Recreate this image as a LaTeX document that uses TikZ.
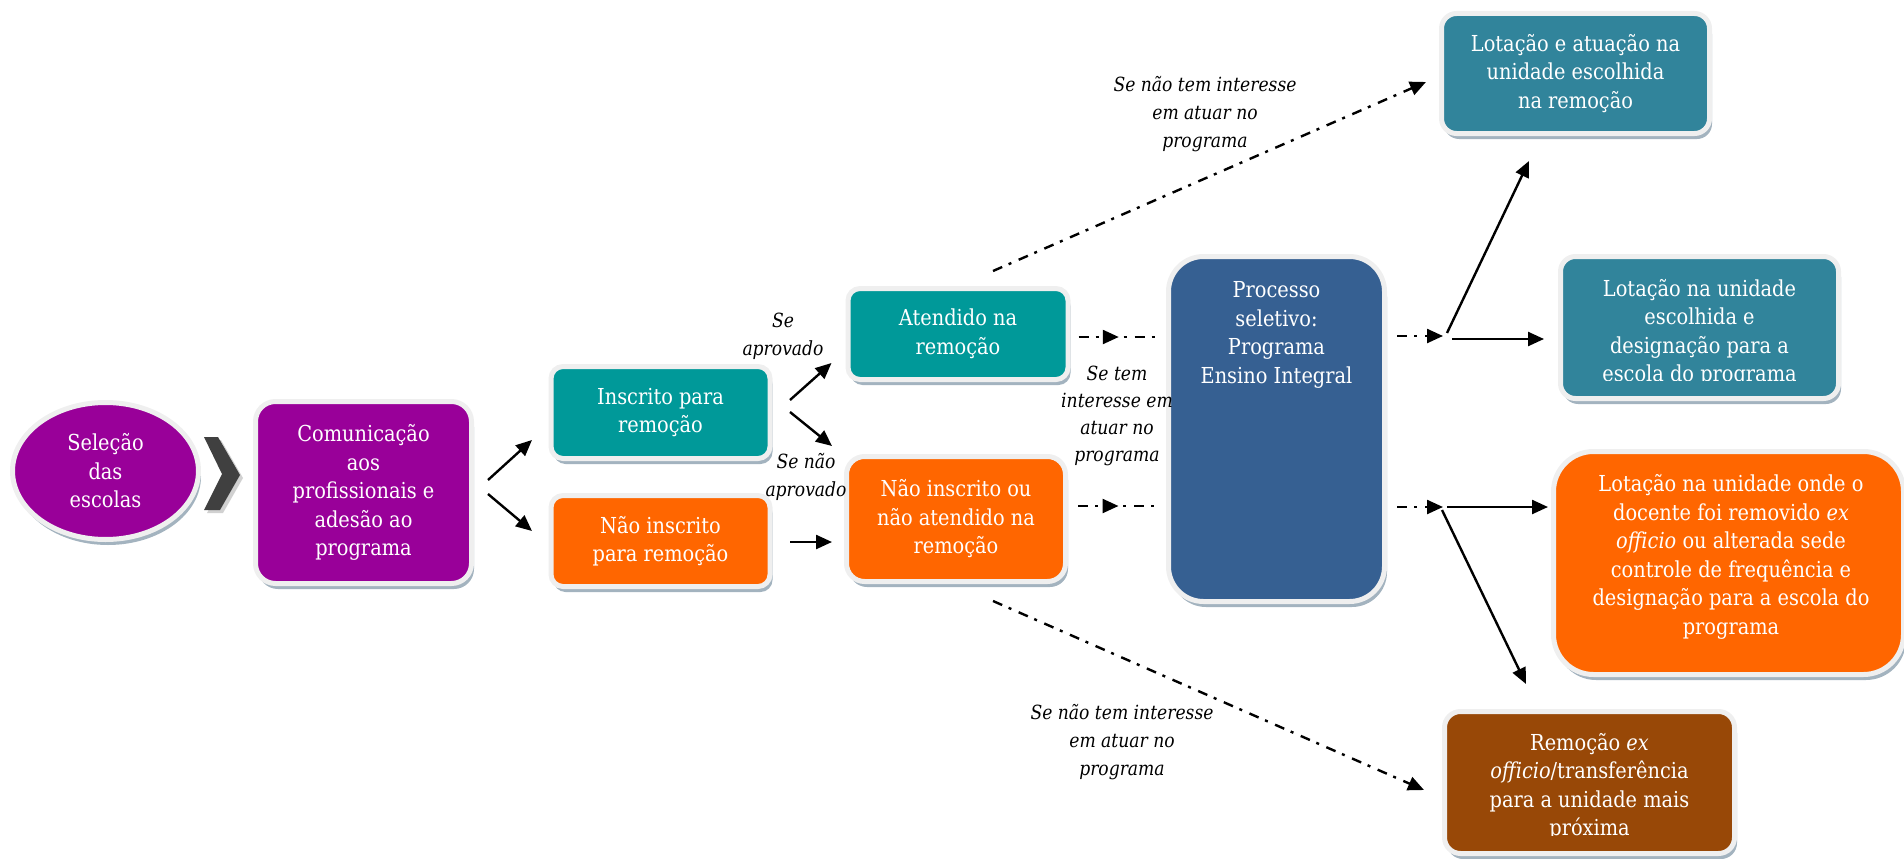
\documentclass[tikz,border=0pt]{standalone}
\usepackage{fontspec}
\setmainfont{DejaVu Serif}[FakeStretch=0.88]
\usetikzlibrary{shapes.geometric,shadows,arrows.meta,decorations.markings}
\definecolor{cpurple}{HTML}{990099}
\definecolor{cteal}{HTML}{009999}
\definecolor{corange}{HTML}{FF6600}
\definecolor{cblue}{HTML}{366092}
\definecolor{cteal2}{HTML}{31849B}
\definecolor{cbrown}{HTML}{984807}
\definecolor{cchev}{HTML}{404040}
\definecolor{crim}{HTML}{EFEFEF}
\definecolor{cshad}{HTML}{A3B3BF}
\newcommand\boxfont{\fontsize{22}{28.5}\selectfont}
\newcommand\lblfont{\fontsize{19.5}{28}\selectfont\itshape}
\tikzset{
  box/.style={rectangle, rounded corners=12pt, draw=crim, line width=5pt,
    text=white, align=center, inner sep=0pt, font=\boxfont,
    drop shadow={shadow xshift=2.5pt, shadow yshift=-5.5pt, fill=cshad, opacity=1}},
  txt/.style={text=white, align=center, inner sep=0pt, font=\boxfont},
  lbl/.style={font=\lblfont, align=center, text=black, inner sep=0pt},
  tip/.style={-{Triangle[length=16pt,width=14pt]}},
  arr/.style={line width=2.4pt, tip},
  dd/.style={line width=2.4pt, dash pattern=on 10pt off 7pt on 3pt off 8pt},
  ddarr/.style={dd, tip},
  midarr/.style={dd, postaction={decorate}, decoration={markings,
    mark=at position 0.5 with {\arrow{Triangle[length=16pt,width=14pt]}}}},
}
\begin{document}
\begin{tikzpicture}[x=1pt, y=-1pt]
\useasboundingbox (0,0) rectangle (1904,859);

% left part
\node[box, ellipse, fill=cpurple, minimum width=186, minimum height=137] (sel) at (105.5,471) {Seleção\\das\\escolas};
\fill[black!18] (207,440) -- (221,440) -- (243,478) -- (223,513) -- (207,513) -- (225,477) -- cycle;
\fill[cchev] (204,437) -- (218,437) -- (240,475) -- (220,510) -- (204,510) -- (222,474) -- cycle;
\node[box, fill=cpurple, rounded corners=20pt, minimum width=216, minimum height=182] (comm) at (363.5,492.5) {Comunicação\\aos\\profissionais e\\adesão ao\\programa};

\node[box, fill=cteal, minimum width=219, minimum height=92] (insc) at (660.5,412.5) {Inscrito para\\remoção};
\node[box, fill=corange, minimum width=219, minimum height=91] (ninsc) at (660.5,541) {Não inscrito\\para remoção};
\node[box, fill=cteal, minimum width=220, minimum height=91] (atend) at (958,334) {Atendido na\\remoção};
\node[box, fill=corange, rounded corners=18pt, minimum width=219, minimum height=125] (ninscou) at (956,519) {Não inscrito ou\\não atendido na\\remoção};

% central box
\node[box, fill=cblue, rounded corners=35pt, minimum width=216, minimum height=345] (proc) at (1276.5,429) {};
\node[txt] (proctxt) at (1276.5,335) {Processo\\seletivo:\\Programa\\Ensino Integral};

% right boxes
\node[box, fill=cteal2, rounded corners=15pt, minimum width=268, minimum height=120] (lot1) at (1575.5,73.5) {Lotação e atuação na\\unidade escolhida\\na remoção};
\node[box, fill=cteal2, rounded corners=15pt, minimum width=278, minimum height=142] (esc) at (1699.5,327.5) {};
\begin{scope}
  \clip (1560,250) rectangle (1840,380);
  \node[txt] (esctxt) at (1699.5,333) {Lotação na unidade\\escolhida e\\designação para a\\escola do programa};
\end{scope}
\node[box, fill=corange, rounded corners=40pt, minimum width=350, minimum height=223] (big) at (1728.5,563) {};
\node[txt] (bigtxt) at (1731,557) {Lotação na unidade onde o\\docente foi removido \textit{ex}\\\textit{officio} ou alterada sede\\controle de frequência e\\designação para a escola do\\programa};
\node[box, fill=cbrown, rounded corners=16pt, minimum width=290, minimum height=142] (brown) at (1589.5,782.5) {};
\begin{scope}
  \clip (1440,700) rectangle (1740,835);
  \node[txt] (browntxt) at (1589.5,786.5) {Remoção \textit{ex}\\\textit{officio}/transferência\\para a unidade mais\\próxima};
\end{scope}

% labels
\node[lbl] (l1) at (783,336.5) {Se\\aprovado};
\node[lbl] (l2) at (806,476.5) {Se não\\aprovado};
\node[lbl] (l3) at (1205,114) {Se não tem interesse\\em atuar no\\programa};
\node[lbl, font=\fontsize{19.5}{27}\selectfont\itshape] (l4) at (1117,416) {Se tem\\interesse em\\atuar no\\programa};
\node[lbl] (l5) at (1122,742) {Se não tem interesse\\em atuar no\\programa};

% junction points
\coordinate (jt) at (1443,336);
\coordinate (jb) at (1443,507);

% connectors
\draw[arr] ([shift={(14,-12.5)}]comm.east) -- ([shift={(-16.5,27.5)}]insc.west);
\draw[arr] ([shift={(14,1.5)}]comm.east) -- ([shift={(-16.5,-10)}]ninsc.west);
\draw[arr] ([shift={(17.5,-12.5)}]insc.east) -- ([shift={(-14,29)}]atend.west);
\draw[arr] ([shift={(17.5,-0.5)}]insc.east) -- ([shift={(-12,-8)}]ninscou.north west);
\draw[arr] ([shift={(17.5,1)}]ninsc.east) -- ([shift={(-12,23)}]ninscou.west);

\draw[midarr] ([shift={(8,3)}]atend.east) -- ([shift={(-7,-92)}]proc.west);
\draw[midarr] ([shift={(10,-13)}]ninscou.east) -- ([shift={(-7,77)}]proc.west);

\draw[ddarr] ([shift={(35,-15)}]atend.north) -- ([shift={(-13,8.5)}]lot1.west);
\draw[ddarr] ([shift={(37,17)}]ninscou.south) -- ([shift={(-18,7.5)}]brown.west);

\draw[ddarr] ([shift={(10,-93)}]proc.east) -- (jt);
\draw[ddarr] ([shift={(10,78)}]proc.east) -- (jb);

\draw[arr] ([shift={(4,-3)}]jt) -- ([shift={(-46.5,25)}]lot1.south);
\draw[arr] ([shift={(9,3)}]jt) -- ([shift={(-14,11.5)}]esc.west);
\draw[arr] ([shift={(4,0)}]jb) -- ([shift={(-3,-56)}]big.west);
\draw[arr] ([shift={(-1,3)}]jb) -- ([shift={(-63.5,-25)}]brown.north);
\end{tikzpicture}
\end{document}
